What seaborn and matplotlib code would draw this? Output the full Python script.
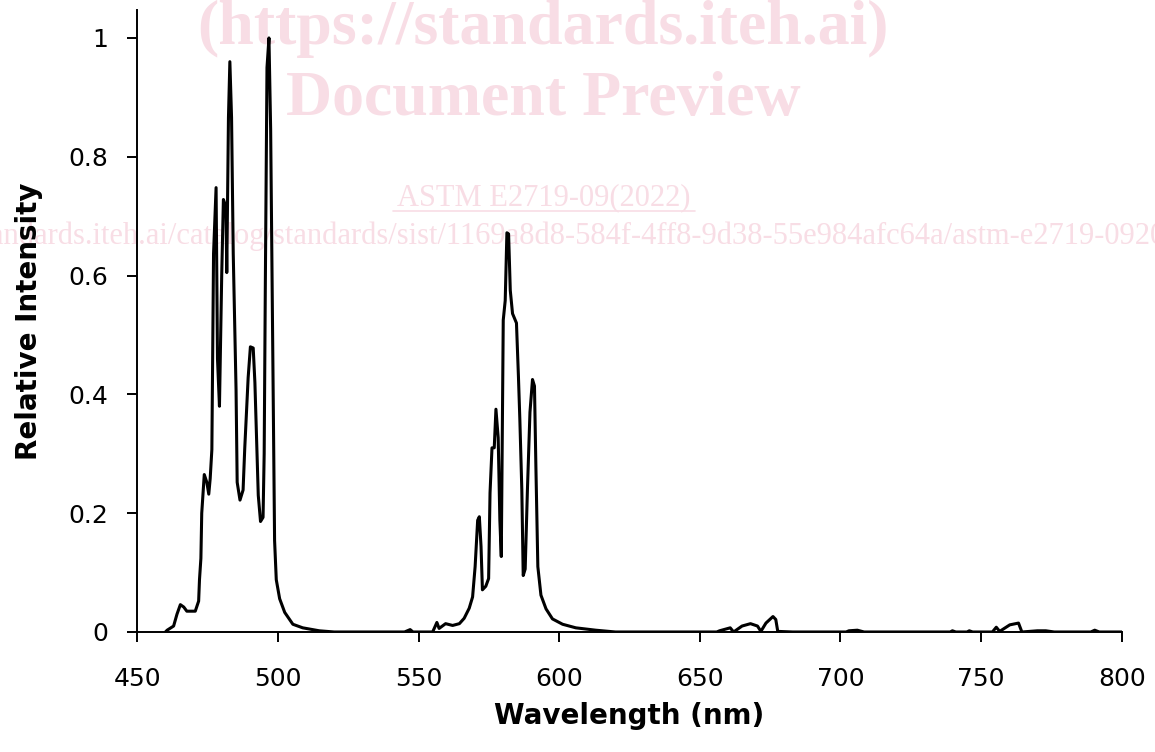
import matplotlib
matplotlib.use("Agg")
import matplotlib.pyplot as plt
from matplotlib.lines import Line2D
import numpy as np
import pandas as pd
import seaborn as sns

# Spectrum (wavelength in nm, relative intensity)
wavelength = [
    460.0, 460.6, 462.9, 464.1, 465.3, 466.5, 467.6, 470.6, 471.8, 472.1,
    472.6, 472.9, 473.8, 474.7, 475.4, 475.9, 476.5, 477.1, 478.0, 478.5,
    479.2, 480.0, 480.6, 481.5, 481.8, 482.4, 482.9, 483.5, 484.1, 485.1,
    485.5, 486.5, 487.6, 488.2, 488.8, 489.4, 490.2, 491.2, 491.8, 492.4,
    493.0, 493.8, 494.7, 495.1, 495.5, 496.1, 496.8, 497.4, 498.2, 498.8,
    499.4, 500.6, 502.4, 505.3, 508.8, 514.7, 520.0, 545.0, 547.0, 548.0,
    555.0, 556.5, 557.3, 559.6, 562.1, 564.5, 566.2, 568.0, 569.2, 570.1,
    571.0, 571.6, 572.2, 572.7, 573.9, 574.9, 575.4, 576.1, 576.9, 577.5,
    578.3, 578.9, 579.4, 580.1, 580.8, 581.4, 582.0, 582.6, 583.4, 584.8,
    585.5, 586.0, 586.7, 587.2, 587.9, 588.7, 589.6, 590.5, 591.2, 591.7,
    592.4, 593.5, 595.3, 597.6, 601.2, 605.9, 613.0, 620.0, 656.0, 657.0,
    660.8, 662.0, 665.0, 668.0, 670.5, 671.7, 673.5, 676.0, 677.0, 677.7,
    683.0, 702.0, 703.0, 706.0, 708.4, 739.0, 739.8, 741.0, 745.0, 745.8,
    747.0, 754.0, 755.4, 756.6, 760.2, 763.3, 764.5, 770.0, 773.0, 776.0,
    789.0, 790.4, 792.0, 800.0,
]
intensity = [
    0.000, 0.003, 0.010, 0.030, 0.046, 0.042, 0.035, 0.035, 0.052, 0.088,
    0.124, 0.200, 0.265, 0.252, 0.232, 0.258, 0.307, 0.637, 0.748, 0.460,
    0.380, 0.600, 0.728, 0.716, 0.605, 0.866, 0.960, 0.866, 0.637, 0.408,
    0.252, 0.222, 0.239, 0.310, 0.369, 0.428, 0.480, 0.478, 0.420, 0.324,
    0.230, 0.186, 0.193, 0.300, 0.578, 0.950, 1.000, 0.846, 0.440, 0.154,
    0.088, 0.056, 0.033, 0.013, 0.007, 0.002, 0.000, 0.000, 0.004, 0.000,
    0.000, 0.016, 0.006, 0.014, 0.011, 0.014, 0.023, 0.040, 0.059, 0.110,
    0.188, 0.194, 0.144, 0.071, 0.077, 0.090, 0.234, 0.310, 0.310, 0.375,
    0.327, 0.188, 0.127, 0.525, 0.558, 0.672, 0.670, 0.575, 0.536, 0.520,
    0.430, 0.358, 0.240, 0.095, 0.106, 0.240, 0.370, 0.425, 0.414, 0.280,
    0.110, 0.062, 0.039, 0.022, 0.013, 0.007, 0.003, 0.000, 0.000, 0.002,
    0.007, 0.000, 0.010, 0.014, 0.010, 0.001, 0.015, 0.026, 0.021, 0.001,
    0.000, 0.000, 0.002, 0.003, 0.000, 0.000, 0.002, 0.000, 0.000, 0.002,
    0.000, 0.000, 0.008, 0.001, 0.012, 0.015, 0.000, 0.002, 0.002, 0.000,
    0.000, 0.003, 0.000, 0.000,
]

x_ticks = [450, 500, 550, 600, 650, 700, 750, 800]
y_ticks = [0, 0.2, 0.4, 0.6, 0.8, 1.0]
y_tick_labels = ["0", "0.2", "0.4", "0.6", "0.8", "1"]

df = pd.DataFrame({"Wavelength": wavelength, "Intensity": intensity})

sns.set_style("ticks")
plt.rcParams["font.family"] = ["DejaVu Sans"]

fig = plt.figure(figsize=(11.55, 7.52), dpi=100)
ax = fig.add_axes([0.1189, 0.1596, 0.9712 - 0.1189, 0.9867 - 0.1596])
ax.patch.set_alpha(0)

# Watermark behind the chart
pink = "#f8dde5"
fig.text(0.470, 0.962, "(https://standards.iteh.ai)", ha="center", va="center",
         fontsize=46, fontweight="bold", family="Liberation Serif", color=pink, zorder=-1)
fig.text(0.470, 0.867, "Document Preview", ha="center", va="center",
         fontsize=46, fontweight="bold", family="Liberation Serif", color=pink, zorder=-1)
fig.text(0.471, 0.737, "ASTM E2719-09(2022)", ha="center", va="center",
         fontsize=22, family="Liberation Serif", color=pink, zorder=-1)
fig.add_artist(Line2D([0.340, 0.602], [0.719, 0.719], color=pink, lw=1.2, zorder=-1))
fig.text(-0.099, 0.686,
         "https://standards.iteh.ai/catalog/standards/sist/1169a8d8-584f-4ff8-9d38-55e984afc64a/astm-e2719-092022",
         ha="left", va="center", fontsize=22, family="Liberation Serif", color=pink, zorder=-1)

sns.lineplot(data=df, x="Wavelength", y="Intensity", color="black", linewidth=2.2,
             errorbar=None, ax=ax)

ax.set_xlim(450, 800)
ax.set_ylim(0, 1.047)
ax.set_xticks(x_ticks)
ax.set_yticks(y_ticks)
ax.set_yticklabels(y_tick_labels)
ax.tick_params(axis="both", direction="out", length=7, width=1.4, labelsize=18,
               color="black", labelcolor="black")
ax.tick_params(axis="x", pad=18)
ax.tick_params(axis="y", pad=14)
sns.despine(ax=ax)
for side in ["left", "bottom"]:
    ax.spines[side].set_linewidth(1.4)
    ax.spines[side].set_color("black")

ax.set_xlabel("Wavelength (nm)", fontsize=20, fontweight="bold", labelpad=8, color="black")
ax.set_ylabel("Relative Intensity", fontsize=20, fontweight="bold", labelpad=18, color="black")

fig.savefig("out.png", dpi=100)
